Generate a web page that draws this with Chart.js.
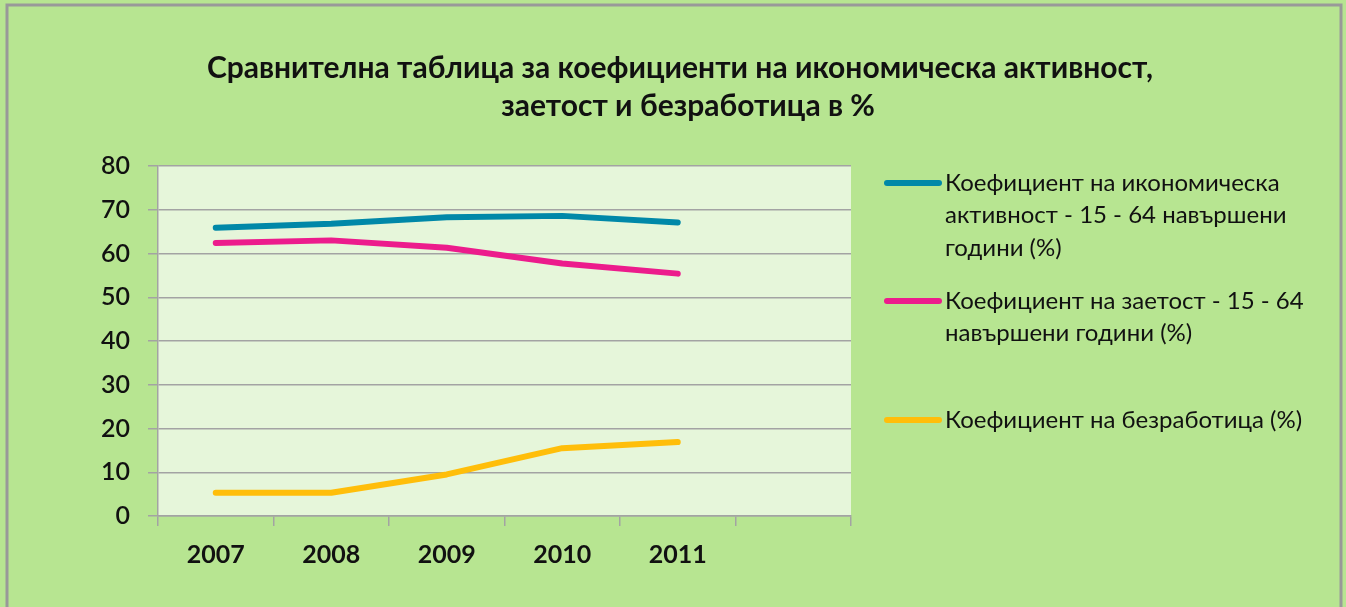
<!DOCTYPE html>
<html>
<head>
<meta charset="utf-8">
<script src="https://cdn.jsdelivr.net/npm/chart.js@4.4.0/dist/chart.umd.min.js"></script>
<style>
  html, body { margin: 0; padding: 0; background: #b7e591; }
  #wrap { width: 1346px; height: 607px; }
</style>
</head>
<body>
<div id="wrap"><canvas id="myChart" width="1346" height="607"></canvas></div>
<script>
// data
const years = ['2007', '2008', '2009', '2010', '2011', ''];
const activity = [65.9, 66.8, 68.3, 68.6, 67.1];
const employment = [62.4, 63.0, 61.3, 57.7, 55.4];
const unemployment = [5.3, 5.3, 9.5, 15.5, 16.9];
const seriesNames = [
    ['Коефициент на икономическа', 'активност - 15 - 64 навършени', 'години (%)'],
    ['Коефициент на заетост - 15 - 64', 'навършени години (%)'],
    ['Коефициент на безработица (%)']
];
const titleLines = ['Сравнителна таблица за коефициенти на икономическа активност,', 'заетост и безработица в %'];
const colors = ['#0088a8', '#ec1c8c', '#ffbe0a'];

const FONT = 'Lato, "Open Sans", sans-serif';
const GRID = '#a3a3a3';

// outer panel, plot background, title, legend
const decor = {
    id: 'decor',
    beforeDraw(chart) {
        const { ctx, chartArea: a } = chart;
        ctx.save();
        ctx.fillStyle = '#b7e591';
        ctx.fillRect(0, 0, chart.width, chart.height);
        ctx.strokeStyle = '#999999';
        ctx.lineWidth = 3;
        ctx.beginPath();
        ctx.moveTo(7, chart.height + 5);
        ctx.lineTo(7, 5);
        ctx.lineTo(1341, 5);
        ctx.lineTo(1341, chart.height + 5);
        ctx.stroke();
        ctx.fillStyle = '#e6f6da';
        ctx.fillRect(a.left, a.top, a.right - a.left, a.bottom - a.top);
        ctx.restore();
    },
    afterDraw(chart) {
        const { ctx } = chart;
        ctx.save();
        ctx.fillStyle = '#111111';
        ctx.textBaseline = 'alphabetic';
        ctx.textAlign = 'center';
        ctx.font = 'bold 30px ' + FONT;
        ctx.fillText(titleLines[0], 680, 78);
        ctx.fillText(titleLines[1], 688, 116);

        // legend
        const tops = [183, 301, 420];
        ctx.textAlign = 'left';
        ctx.textBaseline = 'middle';
        ctx.font = '24px ' + FONT;
        seriesNames.forEach((lines, i) => {
            ctx.strokeStyle = colors[i];
            ctx.lineWidth = 6;
            ctx.lineCap = 'round';
            ctx.beginPath();
            ctx.moveTo(887, tops[i]);
            ctx.lineTo(939, tops[i]);
            ctx.stroke();
            lines.forEach((t, j) => {
                ctx.fillText(t, 945, tops[i] + j * 32.5);
            });
        });
        ctx.restore();
    }
};

function makeSet(label, data, color) {
    return {
        label: label,
        data: data,
        borderColor: color,
        backgroundColor: color,
        borderWidth: 6,
        borderCapStyle: 'round',
        borderJoinStyle: 'round',
        pointRadius: 0,
        tension: 0,
        fill: false
    };
}

const ctx = document.getElementById('myChart').getContext('2d');
const myChart = new Chart(ctx, {
    type: 'line',
    data: {
        labels: years,
        datasets: [
            makeSet(seriesNames[0].join(' '), activity, colors[0]),
            makeSet(seriesNames[1].join(' '), employment, colors[1]),
            makeSet(seriesNames[2].join(' '), unemployment, colors[2])
        ]
    },
    options: {
        responsive: false,
        animation: false,
        layout: { padding: { top: 166, right: 495, left: 0, bottom: 0 } },
        plugins: {
            legend: { display: false },
            title: { display: false },
            tooltip: { enabled: false }
        },
        scales: {
            x: {
                type: 'category',
                offset: true,
                afterFit: s => { s.height = 91; },
                grid: {
                    offset: true,
                    drawOnChartArea: false,
                    drawTicks: true,
                    tickLength: 10,
                    color: GRID,
                    lineWidth: 1.5
                },
                border: { color: GRID, width: 1.5 },
                ticks: {
                    color: '#111111',
                    padding: 14,
                    maxRotation: 0,
                    autoSkip: false,
                    font: { family: FONT, size: 25, weight: 'bold' }
                }
            },
            y: {
                min: 0,
                max: 80,
                afterFit: s => { s.width = 158; },
                ticks: {
                    stepSize: 10,
                    color: '#111111',
                    padding: 18,
                    font: { family: FONT, size: 25, weight: '600' }
                },
                grid: {
                    color: GRID,
                    lineWidth: 1.5,
                    tickLength: 10
                },
                border: { color: GRID, width: 1.5 }
            }
        }
    },
    plugins: [decor]
});
</script>
</body>
</html>
